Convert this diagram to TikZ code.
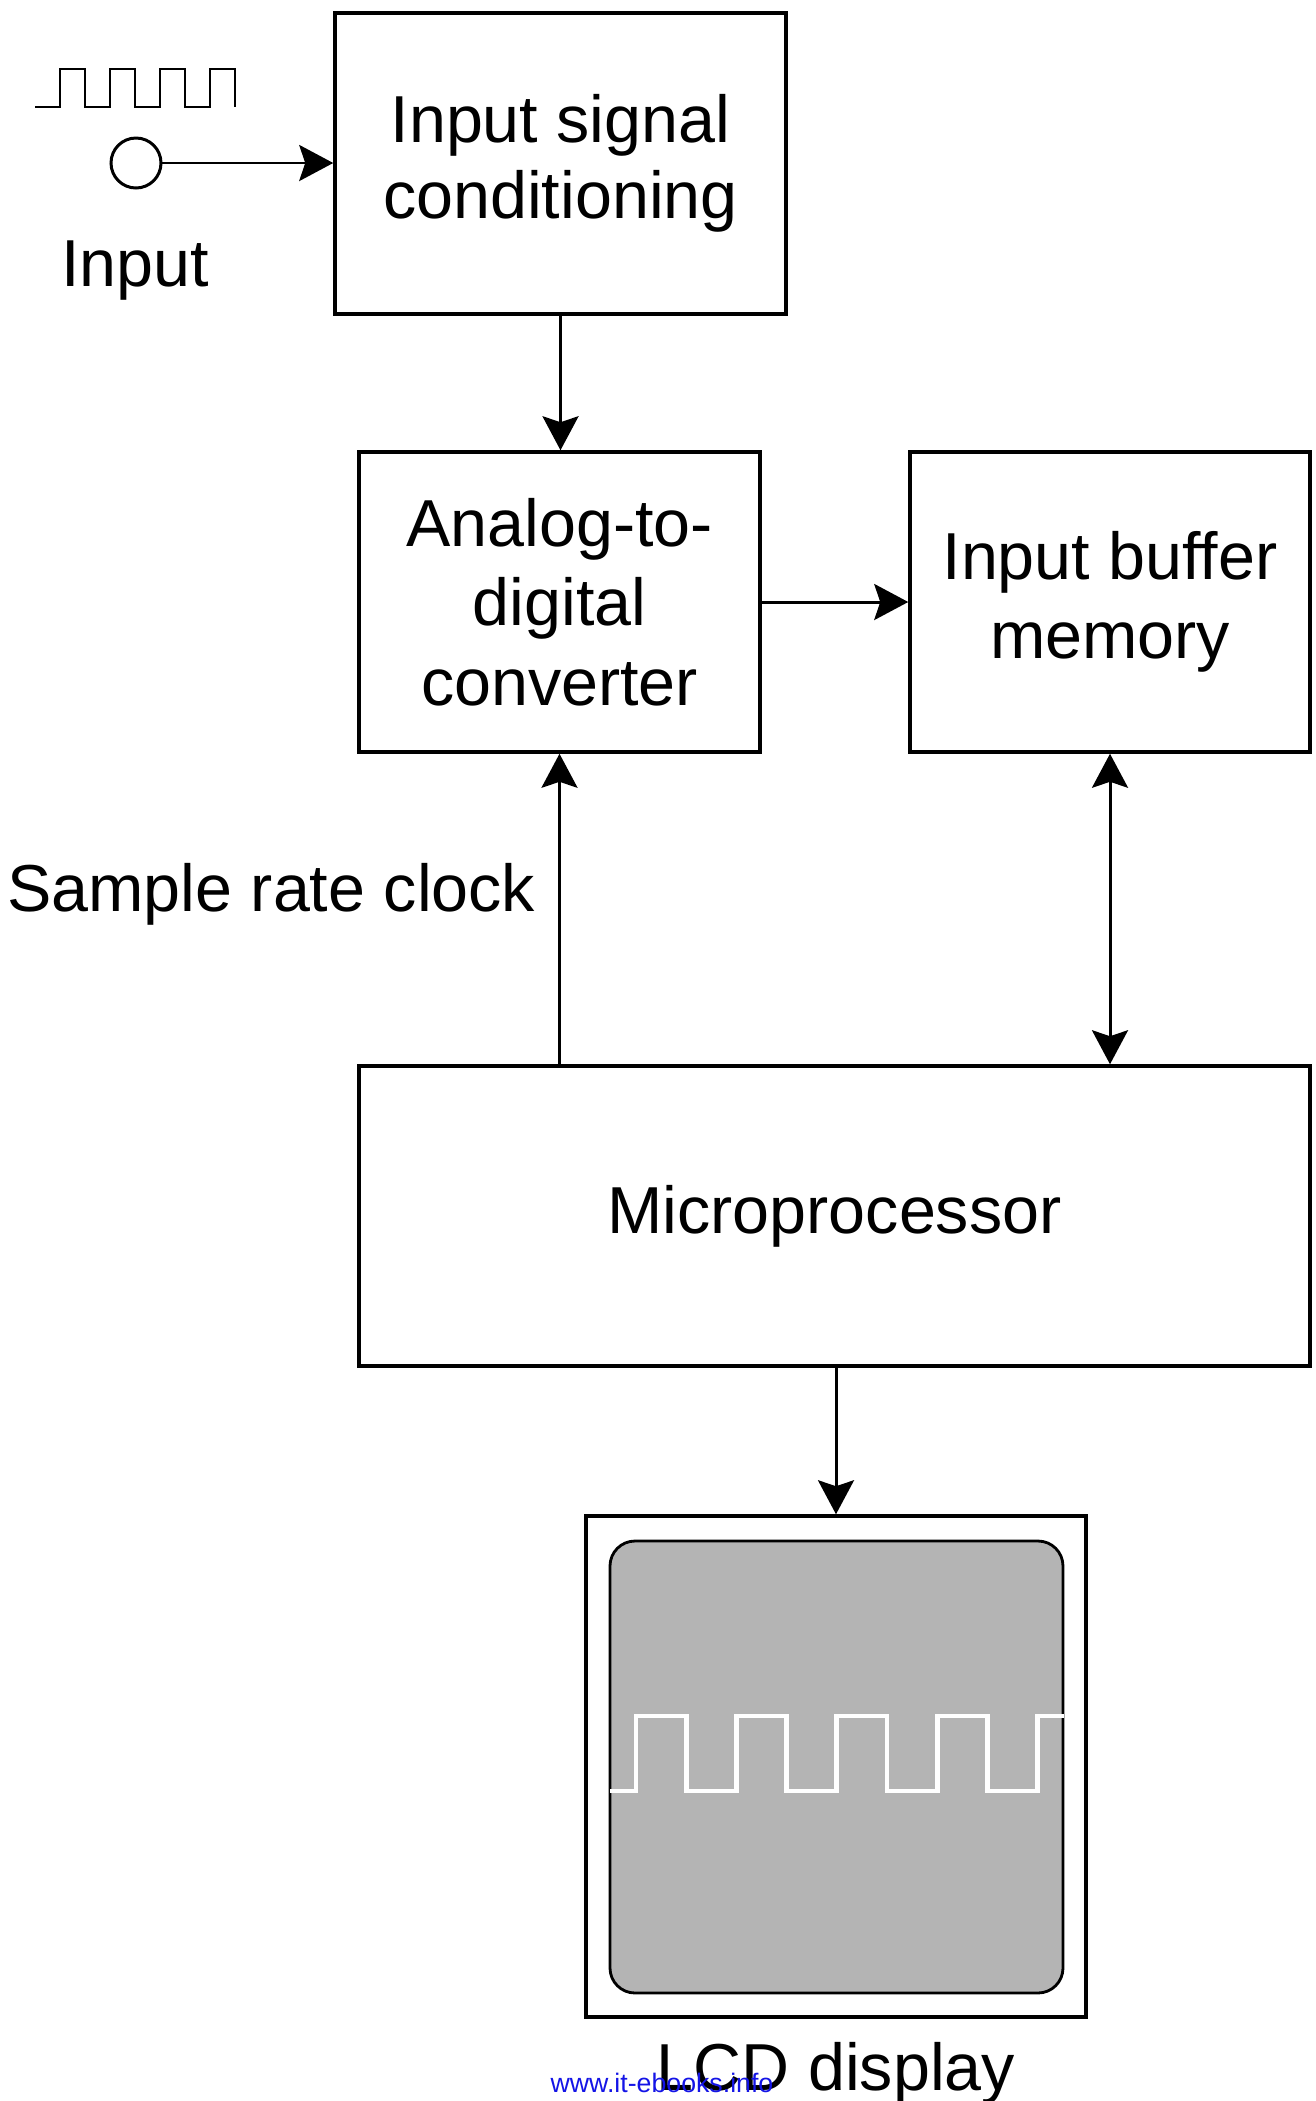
\documentclass[tikz,border=0pt]{standalone}
\usepackage{fontspec}
\setmainfont{Liberation Sans}
\usetikzlibrary{arrows.meta,positioning}
\definecolor{lcdgray}{RGB}{180,180,180}
\definecolor{wmblue}{RGB}{20,20,230}

\begin{document}
\begin{tikzpicture}[
  >={Stealth[length=3.4mm,width=3.6mm,inset=0.6mm]},
  blk/.style={draw, line width=1.0pt, inner sep=0pt, align=center,
    font=\fontsize{18.9}{22.6}\selectfont},
  lbl/.style={inner sep=0pt, font=\fontsize{18.9}{22.6}\selectfont},
  conn/.style={line width=0.85pt}]
  \useasboundingbox (0,0) rectangle (13.15,-21.01);

  % 输入端
  \node[draw, circle, line width=0.85pt, minimum size=0.5cm, inner sep=0pt] (in) at (1.36,-1.63) {};
  \node[lbl, anchor=base] (inlbl) at (1.35,-2.86) {Input};
  \draw[line width=0.85pt] (0.35,-1.07)
    \foreach \i in {1,...,4} { -- ++(0.25,0) -- ++(0,0.38) -- ++(0.25,0) -- ++(0,-0.38) };

  % 各功能框
  \node[blk, minimum width=4.51cm, minimum height=3.01cm] (isc) at (5.605,-1.635) {\raisebox{-1pt}{Input signal}\\conditioning};
  \node[blk, minimum width=4.01cm, minimum height=3.00cm] (adc) at (5.595,-6.02) {Analog-to-\\digital\\converter};
  \node[blk, minimum width=4.00cm, minimum height=3.00cm] (ibm) at (11.10,-6.02) {Input buffer\\memory};
  \node[blk, minimum width=9.51cm, minimum height=3.00cm] (mp) at (8.345,-12.16) {Microprocessor};
  \node[lbl, anchor=base east] (clk) at (5.36,-9.11) {Sample rate clock};

  % 显示屏
  \node[draw, line width=1.0pt, minimum width=5.00cm, minimum height=5.01cm] (lcd) at (8.36,-17.665) {};
  \node[draw, line width=0.8pt, fill=lcdgray, rounded corners=0.25cm,
    minimum width=4.53cm, minimum height=4.52cm] (scr) at (8.365,-17.67) {};
  \draw[white, line width=1.4pt] (6.10,-17.91) -- ++(0.26,0)
    \foreach \i in {1,...,4} { -- ++(0,0.75) -- ++(0.502,0) -- ++(0,-0.75) -- ++(0.502,0) }
    -- ++(0,0.75) -- (10.635,-17.16);
  \node[lbl, anchor=base] (lcdlbl) at (8.36,-20.90) {LCD display};

  % 连线
  \draw[conn,->] (in.east) -- (in.east -| isc.west);
  \draw[conn,->] (isc.south) -- (adc.north -| isc.south);
  \draw[conn,->] (adc.east) -- (ibm.west);
  \draw[conn,->] (mp.north -| adc) -- (adc.south);
  \draw[conn,<->] (mp.north -| ibm) -- (ibm.south);
  \draw[conn,->] (mp.south -| lcd.north) -- (lcd.north);

  \node[anchor=base, inner sep=0pt, text=wmblue, font=\fontsize{7.6}{9}\selectfont] (wm) at (6.62,-20.92) {www.it-ebooks.info};
\end{tikzpicture}
\end{document}
